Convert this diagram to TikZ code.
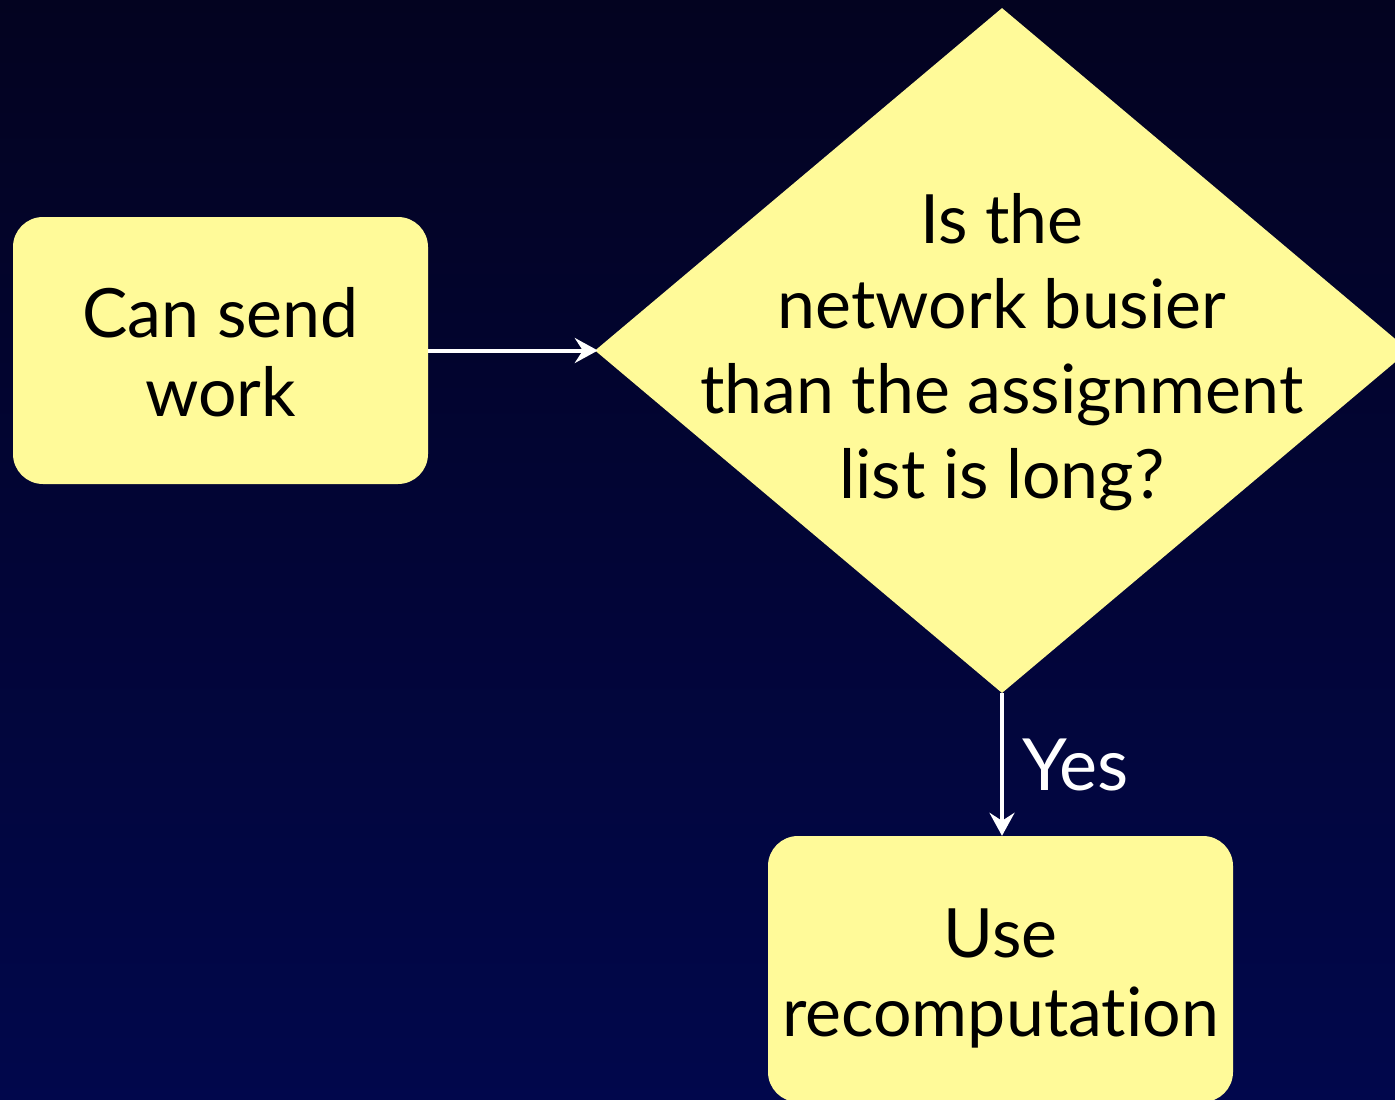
\documentclass[tikz,border=0pt]{standalone}
\usepackage{fontspec}
\setmainfont[Ligatures={NoCommon,NoDiscretionary}]{Lato}
\usetikzlibrary{shapes.geometric,arrows.meta}

\definecolor{bgtop}{RGB}{3,3,32}
\definecolor{bgbottom}{RGB}{1,7,76}
\definecolor{note}{RGB}{255,250,153}

\tikzset{
  stepbox/.style={fill=note, rounded corners=30pt, inner sep=0pt},
  boxtext/.style={align=center, text=black, inner sep=0pt,
    font=\fontsize{68}{79}\selectfont},
  decision/.style={diamond, fill=note, inner sep=0pt},
  flow/.style={draw=white, line width=4pt,
    -{Stealth[length=23pt, width=25pt, inset=8pt]}},
}

\begin{document}
\begin{tikzpicture}[x=1pt, y=-1pt]
  \useasboundingbox (0,0) rectangle (1395,1100);
  \clip (0,0) rectangle (1395,1100);
  \fill[top color=bgtop, bottom color=bgbottom] (0,0) rectangle (1395,1100);

  % start box
  \node[stepbox, minimum width=415pt, minimum height=267pt] (send)
    at (220.5,350.5) {};
  \node[boxtext] (sendtext) at (220.5,352) {Can send\\work};

  % decision
  \node[decision, minimum width=814pt, minimum height=685pt] (busy)
    at (1002,350.5) {};
  \node[boxtext, font=\fontsize{68}{85}\selectfont] (question)
    at (1002,352) {Is the\\network busier\\than the assignment\\list is long?};

  % result box
  \node[stepbox, minimum width=465pt, minimum height=266pt] (recomp)
    at (1000.5,969) {};
  \node[boxtext] (recomptext) at (1000.5,978) {Use\\recomputation};

  % connectors
  \draw[flow] (send.east) -- ([xshift=3pt]send.east -| busy.west);
  \draw[flow] (busy.south) -- (busy.south |- recomp.north)
    node[midway, right=18pt, text=white, inner sep=0pt,
         font=\fontsize{72}{80}\selectfont] (yes) {Yes};
\end{tikzpicture}
\end{document}
